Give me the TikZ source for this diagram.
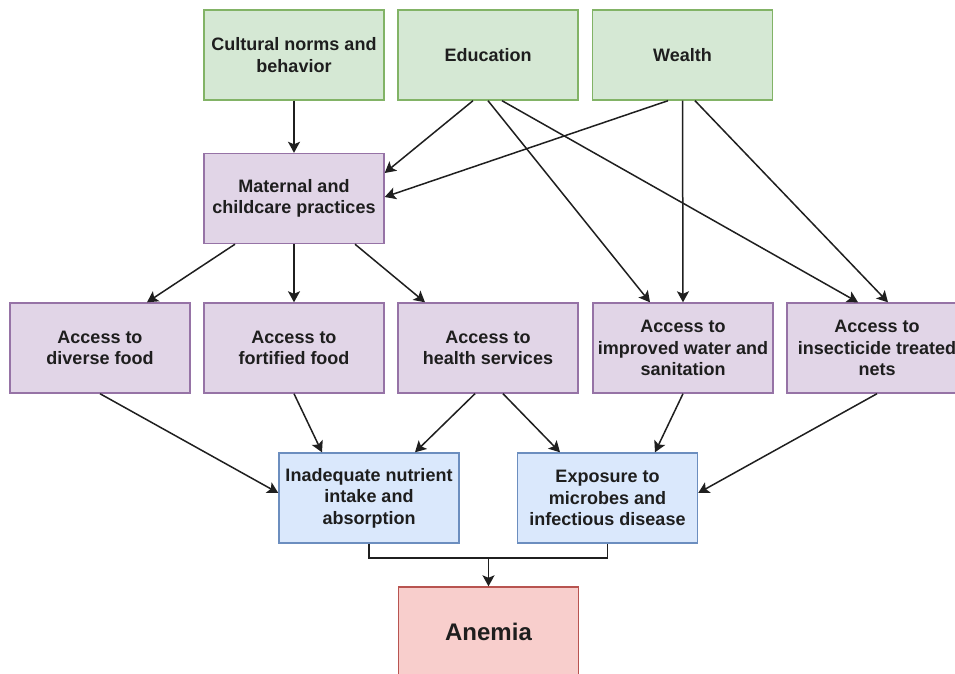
\documentclass[tikz,border=0pt]{standalone}
\usepackage{fontspec}
\setmainfont{Liberation Sans}
\usetikzlibrary{arrows.meta}
\definecolor{gfill}{HTML}{D5E8D4}\definecolor{gline}{HTML}{82B366}
\definecolor{pfill}{HTML}{E1D5E7}\definecolor{pline}{HTML}{9673A6}
\definecolor{bfill}{HTML}{DAE8FC}\definecolor{bline}{HTML}{6C8EBF}
\definecolor{rfill}{HTML}{F8CECC}\definecolor{rline}{HTML}{B85450}
\definecolor{txt}{HTML}{1E1E1E}
\tikzset{
  box/.style={draw, line width=1.4pt, minimum width=180pt, minimum height=90pt, inner sep=0pt,
    align=center, text=txt, font=\fontsize{18}{21.6}\selectfont\bfseries},
  gbox/.style={box, fill=gfill, draw=gline},
  pbox/.style={box, fill=pfill, draw=pline},
  bbox/.style={box, fill=bfill, draw=bline},
  rbox/.style={box, fill=rfill, draw=rline, font=\fontsize{24}{28}\selectfont\bfseries},
  arr/.style={draw=black!88, line width=1.5pt, -{Stealth[length=11pt,width=12pt,inset=2.5pt]}},
  ln/.style={draw=black!88, line width=1.5pt}
}
\begin{document}
\begin{tikzpicture}[x=1pt,y=-1pt]
\useasboundingbox[fill=white] (0,0) rectangle (955,674);
\node[gbox] (cult) at (294,55) {Cultural norms and\\behavior};
\node[gbox] (edu) at (488,55) {Education};
\node[gbox] (wea) at (682.5,55) {Wealth};
\node[pbox] (mat) at (294,198.5) {Maternal and\\childcare practices};
\node[pbox] (div) at (100,348) {Access to\\diverse food};
\node[pbox] (fort) at (294,348) {Access to\\fortified food};
\node[pbox] (hea) at (488,348) {Access to\\health services};
\node[pbox] (wat) at (683,348) {Access to\\improved water and\\sanitation};
\node[pbox] (nets) at (877,348) {Access to\\insecticide treated\\nets};
\node[bbox] (inad) at (369,498) {Inadequate nutrient\\intake and\\absorption};
\node[bbox] (exp) at (607.5,498) {Exposure to\\microbes and\\infectious disease};
\node[rbox] (anem) at (488.5,632) {Anemia};
\coordinate (j) at (488.5,558);

\draw[arr] (cult.south) -- (mat.north);
\draw[arr] ([xshift=-15pt]edu.south) -- ([yshift=25.5pt]mat.east);
\draw[arr] (edu.south) -- ([xshift=-33pt]wat.north);
\draw[arr] ([xshift=14pt]edu.south) -- ([xshift=-19pt]nets.north);
\draw[arr] ([xshift=-14.5pt]wea.south) -- ([yshift=1.5pt]mat.east);
\draw[arr] (wea.south) -- (wat.north);
\draw[arr] ([xshift=12.5pt]wea.south) -- ([xshift=11pt]nets.north);
\draw[arr] ([xshift=-59pt]mat.south) -- ([xshift=47pt]div.north);
\draw[arr] (mat.south) -- (fort.north);
\draw[arr] ([xshift=61pt]mat.south) -- ([xshift=-63pt]hea.north);
\draw[arr] (div.south) -- ([yshift=5pt]inad.west);
\draw[arr] (fort.south) -- ([xshift=-47pt]inad.north);
\draw[arr] ([xshift=-13pt]hea.south) -- ([xshift=46pt]inad.north);
\draw[arr] ([xshift=15pt]hea.south) -- ([xshift=-47.5pt]exp.north);
\draw[arr] (wat.south) -- ([xshift=47.5pt]exp.north);
\draw[arr] (nets.south) -- ([yshift=5pt]exp.east);
\draw[ln] (inad.south) |- (j) -| (exp.south);
\draw[arr] (j) -- (anem.north);
\end{tikzpicture}
\end{document}
